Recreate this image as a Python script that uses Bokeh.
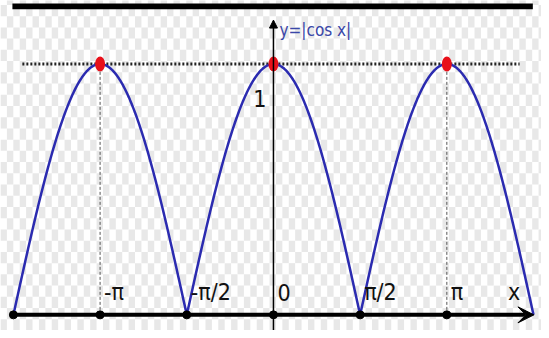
import numpy as np
from bokeh.plotting import figure
from bokeh.models import ColumnDataSource, Arrow, VeeHead, NormalHead
from bokeh.core.properties import value
from bokeh.embed import file_html
from bokeh.resources import INLINE

PI = np.pi
# data
peak_x = [-PI, 0.0, PI]
peak_y = [1.0, 1.0, 1.0]
tick_x = [-1.5 * PI, -PI, -PI / 2, 0.0, PI / 2, PI]
label_x = [-PI, -PI / 2, 0.0, PI / 2, PI]
label_text = ["-π", "-π/2", "0", "π/2", "π"]
curve_x = np.linspace(-1.5 * PI, 1.5 * PI, 600)
curve_y = np.abs(np.cos(curve_x))

FONT = value("Liberation Sans Narrow, DejaVu Sans Condensed, sans-serif")

X0, X1 = -4.946, 4.857
Y0, Y1 = -0.0623, 1.253

p = figure(width=541, height=330, x_range=(X0, X1), y_range=(Y0, Y1),
           output_backend="svg", toolbar_location=None, min_border=0,
           background_fill_color="white", border_fill_color="white")
p.axis.visible = False
p.grid.visible = False
p.outline_line_color = None

# faint checkered background
cw, ch = 6.5 / 56.0, 11.5 / 257.0
xs, ys = [], []
for i, cx in enumerate(np.arange(X0, X1 + cw, cw)):
    for j, cy in enumerate(np.arange(Y0, Y1 + ch, ch)):
        if (i + j) % 2 == 0:
            xs.append(cx + cw / 2)
            ys.append(cy + ch / 2)
p.rect(xs, ys, width=cw, height=ch, fill_color="#e8e8e8", line_color=None)

# top black bar
p.quad(left=-4.73, right=4.70, bottom=1.218, top=1.241, fill_color="black", line_color=None)

# dotted level line y=1
p.line([-4.55, 4.46], [1, 1], line_color="#222222", line_width=3, line_dash="2 2")

# dashed verticals from side peaks
p.segment(x0=[-PI, PI], y0=[0, 0], x1=[-PI, PI], y1=[1, 1],
          line_color="#555555", line_width=1, line_dash="3 2")

# y axis
p.add_layout(Arrow(end=NormalHead(size=8, fill_color="black", line_color="black"),
                   x_start=0, y_start=-0.07, x_end=0, y_end=1.175,
                   line_color="black", line_width=1.5))

# curve
p.line(curve_x, curve_y, line_color="#2b2bb0", line_width=2.5)

# x axis
p.add_layout(Arrow(end=VeeHead(size=16, fill_color="black", line_color="black"),
                   x_start=-1.5 * PI, y_start=0, x_end=4.72, y_end=0,
                   line_color="black", line_width=4))
p.scatter(tick_x, [0] * len(tick_x), size=8, fill_color="black", line_color="black")

# red peak markers
p.ellipse(peak_x, peak_y, width=10, height=15, width_units="screen", height_units="screen",
          fill_color="#e8101a", line_color=None)

# tick labels
src = ColumnDataSource(dict(x=label_x, y=[0.0895] * len(label_x), t=label_text))
p.text(x="x", y="y", text="t", source=src, x_offset=4, text_font=FONT,
       text_font_size="23px", text_color="#111111", text_baseline="middle", text_align="left")
p.text(x=[4.25], y=[0.0895], text=["x"], text_font=FONT, text_font_size="23px",
       text_color="#111111", text_baseline="middle", text_align="left")
p.text(x=[0], y=[0.864], text=["1"], x_offset=-7, text_font=FONT, text_font_size="23px",
       text_color="#111111", text_baseline="middle", text_align="right")
p.text(x=[0], y=[1.136], text=["y=|cos x|"], x_offset=6, text_font=FONT, text_font_size="17px",
       text_color="#3a47a8", text_baseline="middle", text_align="left")

open("out.html", "w").write(file_html(p, INLINE))
